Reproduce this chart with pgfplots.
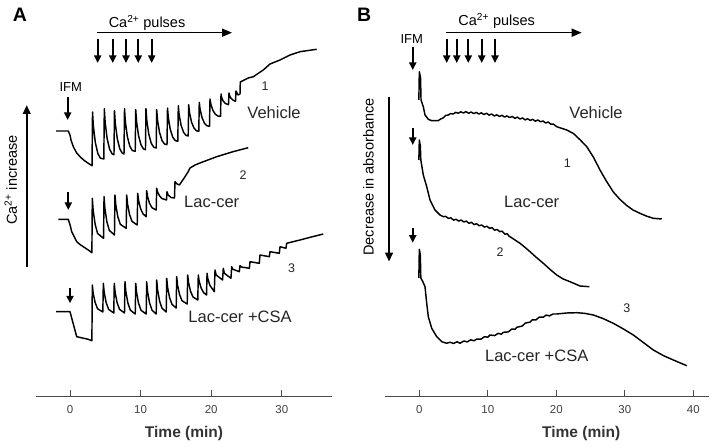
\documentclass[border=0pt]{standalone}
\usepackage{pgfplots}
\pgfplotsset{compat=1.18}
\usepackage{fontspec}
\setmainfont{Liberation Sans}
\usetikzlibrary{arrows.meta}
\begin{document}
\begin{tikzpicture}
\useasboundingbox (0,0) rectangle (711pt,446pt);
\pgfplotsset{
  panel/.style={
    scale only axis, height=396.7pt, ymin=49.3, ymax=446,
    axis x line=bottom, axis y line=none,
    axis line style={-, black!70, line width=1pt},
    tick align=inside, major tick length=7pt,
    xtick style={black!70, line width=1pt},
    xticklabel style={font=\fontsize{11.5}{13}\selectfont, text=black!75, yshift=-5pt},
    clip=false,
  },
  trace/.style={black, line width=1.45pt, line join=round, no markers},
}
\tikzset{
  pulse/.style={line width=2pt, -{Triangle[length=7.5pt,width=7pt]}},
  harrow/.style={line width=1.5pt, -{Triangle[length=10pt,width=8pt]}},
  vbig/.style={line width=2.2pt, -{Triangle[length=9pt,width=7.5pt]}},
  lab/.style={font=\fontsize{16.5}{18}\selectfont, text=black!85},
  num/.style={font=\fontsize{12.5}{14}\selectfont, text=black!85},
  ttl/.style={font=\fontsize{14.5}{16}\selectfont},
}
% ---------------- Panel A ----------------
\begin{axis}[panel, at={(36pt,49.3pt)}, anchor=south west, width=296pt,
  xmin=-4.816, xmax=37.11, xtick={0,10,20,30}, xticklabels={0,10,20,30}]
\addplot[trace] coordinates {
(-1.98,315) (-0.24,315) (0,311) (0.14,306) (0.47,299.3) (0.95,293) (1.42,289.3) (1.98,285.7) (2.59,282.7) (3.12,280.3)
(3.19,334) (3.31,319.9) (3.59,303.4) (3.94,292.6) (4.29,287.9) (4.79,287)
(4.86,337.3) (4.98,323.5) (5.26,307.4) (5.61,296.8) (5.96,292.2) (6.23,291.3)
(6.30,335.3) (6.42,322.3) (6.70,307.2) (7.05,297.2) (7.40,292.9) (7.65,292)
(7.72,337.3) (7.84,324.5) (8.12,309.6) (8.47,299.8) (8.82,295.5) (9.24,294.7)
(9.31,336.3) (9.43,324.3) (9.71,310.3) (10.06,301.1) (10.41,297.1) (10.69,296.3)
(10.76,337.3) (10.88,325.5) (11.16,311.8) (11.51,302.7) (11.86,298.8) (12.21,298)
(12.28,336.3) (12.40,325.8) (12.68,313.6) (13.03,305.5) (13.38,302) (13.74,301.3)
(13.81,338) (13.93,328) (14.21,316.4) (14.56,308.7) (14.91,305.4) (15.27,304.7)
(15.34,340.3) (15.46,331.2) (15.74,320.6) (16.09,313.6) (16.44,310.6) (16.74,310)
(16.81,341.3) (16.93,333.3) (17.21,324) (17.56,317.9) (17.91,315.2) (18.24,314.7)
(18.31,343.7) (18.43,336.5) (18.71,328.1) (19.06,322.6) (19.41,320.2) (19.76,319.7)
(19.83,347) (19.95,341.8) (20.23,335.8) (20.58,331.8) (20.93,330) (21.32,329.7)
(21.39,352) (21.49,348.3) (21.69,345.0) (21.99,342.6) (22.45,341.3)
(22.52,353) (22.62,350.1) (22.82,347.6) (23.12,345.7) (23.44,344.7)
(23.51,355) (23.80,351) (24.08,352) (24.12,364) (25.25,368) (25.96,369.3) (27.38,376) (28.33,382) (29.75,386) (31.16,391) (32.58,394.3) (34.94,396.7)
};
\addplot[trace] coordinates {
(-1.66,226.7) (-0.24,226.7) (0.05,220) (0.24,214.3) (0.95,204.3) (1.42,201.5) (2.59,196) (3.10,193.3)
(3.16,247.7) (3.28,235.7) (3.56,221.7) (3.91,212.5) (4.75,207.7)
(4.82,249.3) (4.94,237.8) (5.22,224.4) (5.57,215.6) (6.30,211)
(6.37,251) (6.49,241) (6.77,229.4) (7.12,221.7) (7.96,217.7)
(8.03,251) (8.15,242) (8.43,231.5) (8.78,224.6) (9.52,221)
(9.59,252.7) (9.71,245.7) (9.99,237.5) (10.34,232.1) (10.79,229.3)
(10.86,255.3) (10.98,249.5) (11.26,242.8) (11.61,238.3) (12.21,236)
(12.28,257.7) (12.40,254.2) (12.68,250.1) (13.03,247.4) (13.67,246)
(13.74,254.3) (13.9,251) (14.3,248.5) (14.80,248)
(14.87,264.3) (15.1,262.3) (15.50,261)
(16.29,269.3) (16.71,274) (17.0,278) (17.71,281) (18.41,283) (20.78,289.3) (23.09,294.3) (25.25,298.3)
};
\addplot[trace] coordinates {
(-1.98,134.3) (0,134.3) (0.95,109.3) (2.59,106.7) (3.10,105.3)
(3.16,161) (3.28,152.9) (3.56,143.5) (3.91,137.2) (4.65,134)
(4.72,162.7) (4.84,153.8) (5.12,143.4) (5.47,136.6) (6.20,133)
(6.27,162.7) (6.39,153.8) (6.67,143.4) (7.02,136.6) (7.72,133)
(7.79,164.3) (7.91,154.6) (8.19,143.3) (8.54,135.9) (9.24,132)
(9.31,162.7) (9.43,153.5) (9.71,142.7) (10.06,135.7) (10.79,132)
(10.86,164.3) (10.98,154.6) (11.26,143.3) (11.61,135.9) (12.21,132)
(12.28,166) (12.40,156.4) (12.68,145.2) (13.03,137.8) (13.63,134)
(13.70,167.7) (13.82,158.8) (14.10,148.4) (14.45,141.6) (15.04,138)
(15.11,169.3) (15.23,161.1) (15.51,151.6) (15.86,145.3) (16.60,142)
(16.67,171) (16.79,163.5) (17.07,154.8) (17.42,149) (18.10,146)
(18.17,171) (18.29,165) (18.57,158) (18.92,153.4) (19.34,151)
(19.41,172.7) (19.53,167.2) (19.81,160.7) (20.44,154.3)
(20.54,176) (20.7,171) (21.61,166)
(21.71,177.7) (21.87,172.7) (22.80,167.7)
(22.90,179.3) (23.05,176.8) (23.98,174.3)
(24.08,180.5) (24.25,179) (25.40,177.7)
(25.50,184.3) (26.81,182.7)
(26.91,191) (28.23,189.3)
(28.33,194.3) (29.65,192.7)
(29.75,199.3) (30.59,197.7)
(30.69,202.7) (32.58,206) (34.46,209.5) (35.88,212)
};
% annotations
\node[font=\bfseries\fontsize{19.5}{20}\selectfont] at (axis cs:-7.08,431.5) {A};
\node[ttl] at (axis cs:10.91,423) {Ca\textsuperscript{2+} pulses};
\draw[harrow] (axis cs:3.82,413.3) -- (axis cs:22.95,413.3);
\draw[pulse] (axis cs:3.92,407) -- (axis cs:3.92,383);
\draw[pulse] (axis cs:6.05,407) -- (axis cs:6.05,383);
\draw[pulse] (axis cs:7.93,407) -- (axis cs:7.93,383);
\draw[pulse] (axis cs:9.67,407) -- (axis cs:9.67,383);
\draw[pulse] (axis cs:11.57,407) -- (axis cs:11.57,383);
\node[font=\fontsize{13}{14}\selectfont] at (axis cs:0.10,359) {IFM};
\draw[pulse] (axis cs:-0.33,349) -- (axis cs:-0.33,326);
\draw[pulse] (axis cs:-0.24,254.3) -- (axis cs:-0.24,236);
\draw[pulse] (axis cs:0,157.7) -- (axis cs:0,142.7);
\draw[vbig] (axis cs:-6.13,179.3) -- (axis cs:-6.13,341);
\node[rotate=90, font=\fontsize{14.5}{16}\selectfont] at (axis cs:-8.4,266) {Ca\textsuperscript{2+} increase};
\node[num] at (axis cs:27.62,360) {1};
\node[lab] at (axis cs:28.90,333.3) {Vehicle};
\node[num] at (axis cs:24.50,271) {2};
\node[lab] at (axis cs:20.07,244.3) {Lac-cer};
\node[num] at (axis cs:31.40,177.7) {3};
\node[lab] at (axis cs:24.08,128.7) {Lac-cer +CSA};
\node[font=\bfseries\fontsize{15.5}{17}\selectfont, text=black!80] at (axis cs:16.15,13) {Time (min)};
\end{axis}
% ---------------- Panel B ----------------
\begin{axis}[panel, at={(385pt,49.3pt)}, anchor=south west, width=324pt,
  xmin=-5.01, xmax=42.29, xtick={0,10,20,30,40}, xticklabels={0,10,20,30,40}]
\addplot[trace] coordinates {
(-0.07,346) (0,374.3) (0.18,368) (0.25,346) (0.58,339.3) (0.83,331) (1.31,326.7) (1.81,325.3) (2.77,325.3) (3.0,326.5) (3.5,328.2)
(3.85,330.6) (4.25,331.0) (4.55,332.4) (4.95,332.0) (5.3,333.6) (5.7,332.8) (6.05,334.2) (6.45,333.0) (6.8,334.4) (7.2,332.7) (7.55,334.0) (7.95,332.4) (8.3,333.6) (8.7,332.0) (9.05,333.2) (9.45,331.4) (9.8,332.8) (10.2,330.8) (10.55,332.0) (10.95,330.0) (11.3,331.2) (11.7,329.5) (12.05,330.7) (12.45,328.9) (12.8,330.1) (13.2,328.4) (13.55,329.6) (13.95,327.6) (14.3,328.9) (14.7,326.9) (15.05,328.1) (15.45,326.1) (15.8,327.3) (16.2,325.6) (16.55,326.7) (16.95,324.8) (17.3,326.0) (17.7,324.2) (18.05,325.0) (18.45,323.0) (18.8,324.0) (19.2,321.8) (19.55,322.0)
(20.06,319.3) (21.52,316) (22.5,312.5) (23.5,306) (24.44,299.3) (25.4,289) (26.38,276) (27.3,265) (28.32,254) (29.3,246.5) (30.28,240.5) (31.2,236) (32.2,232.7) (33.2,229.8) (34.16,227.7) (35.39,227)
};
\addplot[trace] coordinates {
(-0.07,286) (0,306) (0.15,300) (0.22,286) (0.58,271) (1.08,259.3) (1.56,246) (2.29,236) (3.02,231) (3.50,229.3)
(3.85,229.6) (4.25,227.6) (4.6,228.2) (5.0,225.8) (5.35,226.8) (5.75,224.9) (6.1,226.0) (6.5,224.0) (6.85,224.9) (7.25,222.7) (7.6,223.7) (8.0,221.4) (8.35,222.3) (8.75,220.2) (9.1,221.0) (9.5,218.9) (9.85,219.8) (10.25,217.6) (10.6,218.4) (11.0,215.8) (11.35,216.5) (11.75,214.4) (12.1,214.8) (12.5,211.8) (12.85,212.2) (13.1,209.8)
(13.24,209.3) (14.70,202.7) (15.4,198.8) (16.16,194.3) (17.1,188.5) (18.10,182.7) (19.1,176.5) (20.06,171) (21.0,167) (22.00,164.3) (23.46,160) (24.82,159.3)
};
\addplot[trace] coordinates {
(-0.07,168) (0,196.7) (0.15,191) (0.22,168) (0.54,164) (0.83,159.3) (1.08,142.7) (1.31,129.3) (1.81,117.7) (2.54,109.3) (3.27,104.3) (4.0,102.7)
(4.5,103.8) (5.0,102.5) (5.5,104.2) (5.94,102.8) (6.5,105.0) (7.0,104.1) (7.5,106.2) (8.0,105.2) (8.38,107.0) (9.0,106.8) (9.5,109.3) (10.0,108.8) (10.32,111.0) (11.0,110.4) (11.5,112.6) (12.0,111.8) (12.26,113.7) (13.0,114.1) (13.5,117.0) (14.0,116.7) (14.22,118.7) (15.0,119.9) (15.5,123.0) (16.16,123.8) (16.5,126.2) (17.0,126.0) (17.5,128.8) (18.1,128.8) (18.5,130.9) (19.0,130.1) (19.5,132.0) (20.06,132)
(21.5,133) (22.98,133.3) (24.2,132.6) (25.40,131) (26.8,127.5) (28.32,122.7) (29.8,117) (31.24,111) (32.7,103.5) (34.16,96) (35.6,90.5) (37.08,86) (39.04,80.3)
};
\node[font=\bfseries\fontsize{19.5}{20}\selectfont] at (axis cs:-8.07,431.5) {B};
\node[ttl] at (axis cs:11.30,425.3) {Ca\textsuperscript{2+} pulses};
\draw[harrow] (axis cs:3.90,413.3) -- (axis cs:23.71,413.3);
\draw[pulse] (axis cs:4.0,407) -- (axis cs:4.0,383);
\draw[pulse] (axis cs:5.46,407) -- (axis cs:5.46,383);
\draw[pulse] (axis cs:7.15,407) -- (axis cs:7.15,383);
\draw[pulse] (axis cs:9.11,407) -- (axis cs:9.11,383);
\draw[pulse] (axis cs:11.05,407) -- (axis cs:11.05,383);
\node[font=\fontsize{13}{14}\selectfont] at (axis cs:-1.11,406.7) {IFM};
\draw[pulse] (axis cs:-0.96,399.3) -- (axis cs:-0.96,376);
\draw[pulse] (axis cs:-0.96,317.7) -- (axis cs:-0.96,301);
\draw[pulse] (axis cs:-0.96,217.7) -- (axis cs:-0.96,203.3);
\draw[vbig] (axis cs:-4.42,349.3) -- (axis cs:-4.42,184.3);
\node[rotate=90, font=\fontsize{14.5}{16}\selectfont] at (axis cs:-7.42,269) {Decrease in absorbance};
\node[lab] at (axis cs:25.80,333.3) {Vehicle};
\node[num] at (axis cs:21.61,282.7) {1};
\node[lab] at (axis cs:16.41,244.3) {Lac-cer};
\node[num] at (axis cs:11.78,194.3) {2};
\node[num] at (axis cs:30.28,137.7) {3};
\node[lab] at (axis cs:17.14,90.3) {Lac-cer +CSA};
\node[font=\bfseries\fontsize{15.5}{17}\selectfont, text=black!80] at (axis cs:23.64,13) {Time (min)};
\end{axis}
\end{tikzpicture}
\end{document}
